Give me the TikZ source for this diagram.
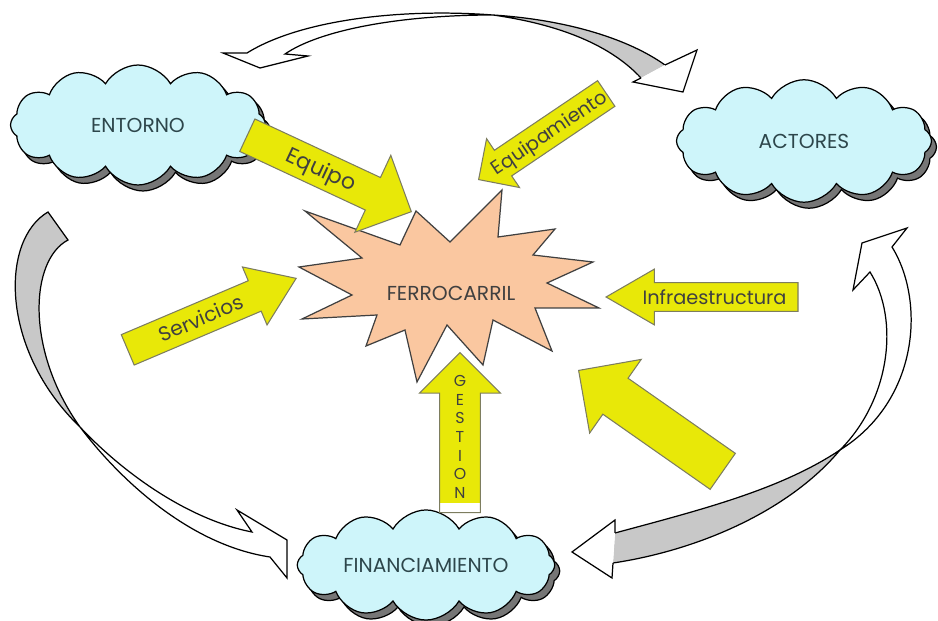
\documentclass[tikz,border=0pt]{standalone}
\usepackage{fontspec}
\setmainfont{Poppins}
\usepackage{tikz}
\usetikzlibrary{shapes.symbols,shapes.arrows,shadows}

\definecolor{cloudblue}{RGB}{206,245,250}
\definecolor{cloudtext}{RGB}{45,70,75}
\definecolor{shadowgray}{RGB}{118,118,118}
\definecolor{arrowyellow}{RGB}{232,232,8}
\definecolor{arrowedge}{RGB}{125,125,95}
\definecolor{starfill}{RGB}{250,199,160}
\definecolor{bandgray}{RGB}{200,200,200}

\begin{document}
\begin{tikzpicture}[x=0.02cm, y=-0.02cm,
	cloudbox/.style={cloud, cloud puffs=12, cloud puff arc=120, inner sep=0pt, draw=black, line width=0.7pt, fill=cloudblue, text=cloudtext, font=\fontsize{11.5}{13}\selectfont, copy shadow={shadow xshift=0.1cm, shadow yshift=-0.12cm, fill=shadowgray, draw=black}},
	yarrow/.style={single arrow, anchor=tip, draw=arrowedge, line width=0.6pt, fill=arrowyellow, text=black!75, font=\fontsize{11.5}{13}\selectfont, inner xsep=1pt, inner ysep=2pt},
	band/.style={draw=black, line width=0.7pt, fill=white},
	bandshade/.style={draw=black, line width=0.7pt, fill=bandgray}]

	\useasboundingbox (0,0) rectangle (938,621);

	\node[cloudbox, aspect=2.1, minimum width=5.1cm, minimum height=2.4cm] (entorno) at (138,125) {ENTORNO};
	\node[cloudbox, aspect=2.1, minimum width=5.1cm, minimum height=2.45cm] (actores) at (804,141) {ACTORES};
	\node[cloudbox, aspect=3, minimum width=5.15cm, minimum height=1.7cm] (finan) at (426,565) {FINANCIAMIENTO};

	\draw[band] (247,53) .. controls (300,20) and (400,8) .. (493,15) .. controls (400,15) and (320,30) .. (285,54) -- (308,56) -- (260,68) -- (223,53) -- cycle;
	\draw[bandshade] (641,78) .. controls (615,50) and (570,26) .. (493,15) .. controls (570,20) and (630,40) .. (665,65);
	\draw[band] (665,65) -- (697,50) -- (683,92) -- (633,82) -- (641,78);

	\draw[bandshade] (48,212) .. controls (0,240) and (0,350) .. (80,427) .. controls (25,350) and (30,260) .. (68,240) -- cycle;
	\draw[band] (80,427) .. controls (120,480) and (190,545) .. (270,557) -- (287,578) -- (287,540) -- (237,510) -- (252,532) .. controls (190,520) and (125,475) .. (80,427);

	\draw[band] (870,272) .. controls (900,320) and (890,400) .. (840,450) .. controls (920,400) and (925,300) .. (892,247) -- (907,228) -- (862,243) -- (853,290) -- cycle;
	\draw[bandshade] (615,533) .. controls (700,510) and (780,490) .. (840,450) .. controls (790,510) and (700,550) .. (613,563);
	\draw[band] (615,533) -- (615,520) -- (572,552) -- (612,578) -- (613,563);

	\draw[draw=black!75, line width=0.7pt, fill=starfill] (305,211) -- (400,245) -- (416,211) -- (450,242) -- (502,190) -- (498,237) -- (555,229) -- (533,255) -- (593,262) -- (547,283) -- (599,308) -- (535,308) -- (552,351) -- (493,320) -- (483,365) -- (447,325) -- (417,382) -- (405,330) -- (366,346) -- (377,315) -- (302,319) -- (352,295) -- (299,267) -- (362,258) -- cycle;
	\node[text=black!75, font=\fontsize{11.5}{13}\selectfont] (ferro) at (451,293) {FERROCARRIL};

	\node[yarrow, rotate=-25, text height=11.9pt, text depth=3.9pt, font=\fontsize{12.5}{14}\selectfont, minimum height=3.62cm, minimum width=1.68cm, single arrow head extend=0.49cm] (equipo) at (412,212) {Equipo};
	\node[yarrow, rotate=34, shape border rotate=180, inner xsep=0pt, text height=10.5pt, text depth=2.5pt, font=\fontsize{11}{13}\selectfont, minimum height=3.08cm, minimum width=1.16cm, single arrow head extend=0.28cm] (equipam) at (478,180) {Equipamiento};
	\node[yarrow, rotate=23, single arrow tip angle=70, text height=11.1pt, text depth=3.1pt, minimum height=3.66cm, minimum width=1.24cm, single arrow head extend=0.3cm] (servicios) at (297,278) {Servicios};
	\node[yarrow, shape border rotate=180, single arrow tip angle=60, text height=9.9pt, text depth=1.9pt, font=\fontsize{11}{13}\selectfont, minimum height=3.84cm, minimum width=1.1cm, single arrow head extend=0.27cm] (infra) at (605,297) {Infraestructura};
	\node[yarrow, shape border rotate=90, text width=20.7pt, minimum height=3.2cm, minimum width=1.6cm, single arrow head extend=0.4cm, path picture={\fill[white] (path picture bounding box.south west) rectangle ([yshift=0.2cm]path picture bounding box.south east);}] (gestion) at (460,352) {};
	\node[text=black!75, font=\fontsize{9}{10.6}\selectfont, align=center] (gestlbl) at (460,437) {G\\E\\S\\T\\I\\O\\N};
	\node[yarrow, rotate=145, text height=20.4pt, text depth=0pt, minimum height=3.52cm, minimum width=1.78cm, single arrow head extend=0.46cm] (bigarrow) at (578,370) {};

\end{tikzpicture}
\end{document}
